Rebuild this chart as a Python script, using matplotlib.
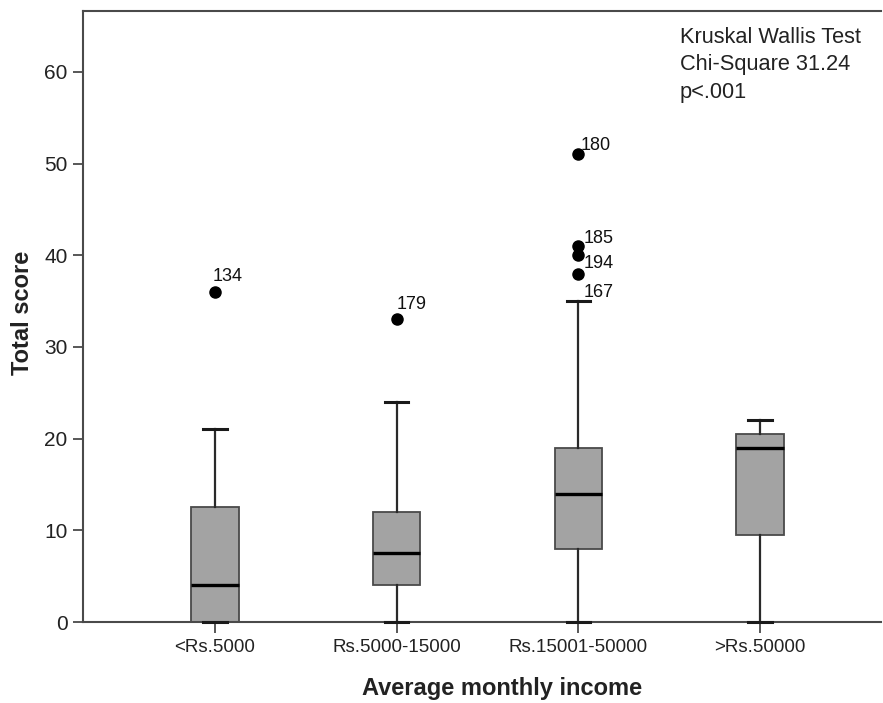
import matplotlib
matplotlib.use("Agg")
import matplotlib.pyplot as plt
from matplotlib.transforms import ScaledTranslation

plt.rcParams["font.family"] = ["Liberation Sans", "DejaVu Sans"]

# box statistics
groups = ["<Rs.5000", "Rs.5000-15000", "Rs.15001-50000", ">Rs.50000"]
q1 = [0.0, 4.0, 8.0, 9.5]
medians = [4.0, 7.5, 14.0, 19.0]
q3 = [12.5, 12.0, 19.0, 20.5]
whisk_lo = [0.0, 0.0, 0.0, 0.0]
whisk_hi = [21.0, 24.0, 35.0, 22.0]
outliers = [[36.0], [33.0], [51.0, 41.0, 40.0, 38.0], []]
outlier_ids = [["134"], ["179"], ["180", "185", "194", "167"], []]

# label offsets (pixels) from each outlier point, as SPSS placed them
label_offsets = [[(-2, 15)], [(0, 15)], [(2, 9), (5, 8), (5, -8), (5, -19)], []]
# small shifts of the category labels seen in the picture (pixels)
tick_label_shift = [-11, -17, -20, -6]

stats = []
for i, name in enumerate(groups):
    stats.append({
        "label": name,
        "q1": q1[i],
        "med": medians[i],
        "q3": q3[i],
        "whislo": whisk_lo[i],
        "whishi": whisk_hi[i],
        "fliers": outliers[i],
    })

fig = plt.figure(figsize=(8.83, 7.03), dpi=100)
ax = fig.add_axes([83 / 883, 1 - 622 / 703, 798 / 883, 611 / 703])

edge = "#4a4a4a"
positions = [1, 2, 3, 4]
ax.bxp(
    stats,
    positions=positions,
    widths=0.26,
    patch_artist=True,
    showfliers=True,
    boxprops=dict(facecolor="#a3a3a3", edgecolor=edge, linewidth=1.3),
    medianprops=dict(color="black", linewidth=2.4),
    whiskerprops=dict(color="#2a2a2a", linewidth=1.6),
    capprops=dict(color="#1a1a1a", linewidth=2.2, zorder=3, clip_on=False),
    flierprops=dict(marker="o", markerfacecolor="black", markeredgecolor="black", markersize=8),
)

for pos, vals, ids, offs in zip(positions, outliers, outlier_ids, label_offsets):
    for v, lab, (dx, dy) in zip(vals, ids, offs):
        ax.annotate(lab, (pos, v), xytext=(dx * 0.72, dy * 0.72), textcoords="offset points",
                    ha="left", va="center", fontsize=13, color="#111111")

ax.set_xlim(0.2734, 4.666)
ax.set_ylim(0, 66.65)
ax.set_yticks([0, 10, 20, 30, 40, 50, 60])
ax.set_xticks(positions)
ax.set_xticklabels(groups)

for lab, sh in zip(ax.get_xticklabels(), tick_label_shift):
    lab.set_transform(lab.get_transform() + ScaledTranslation(sh / 100, -2 / 100, fig.dpi_scale_trans))

ax.tick_params(axis="y", direction="out", length=7.2, width=1.3, color=edge, labelsize=15, pad=4, labelcolor="#222222")
ax.tick_params(axis="x", direction="out", length=8, width=1.3, color=edge, labelsize=13.5, pad=4, labelcolor="#222222")

for side in ("left", "top", "bottom"):
    ax.spines[side].set_color(edge)
    ax.spines[side].set_linewidth(1.5)
ax.spines["right"].set_visible(False)

ax.set_xlabel("Average monthly income", fontsize=17, fontweight="bold", color="#222222")
ax.xaxis.set_label_coords((502 - 83) / 798, (622 - 689) / 611)
ax.xaxis.label.set_va("center")
ax.set_ylabel("Total score", fontsize=17, fontweight="bold", color="#222222")
ax.yaxis.set_label_coords((23 - 83) / 798, (622 - 313) / 611)
ax.yaxis.label.set_va("center")

ax.text((680 - 83) / 798, 1 - (27 - 11) / 611, "Kruskal Wallis Test\nChi-Square 31.24\np<.001",
        transform=ax.transAxes, ha="left", va="top", fontsize=15.7, color="#222222", linespacing=1.4)

fig.savefig("out.png", dpi=100)
